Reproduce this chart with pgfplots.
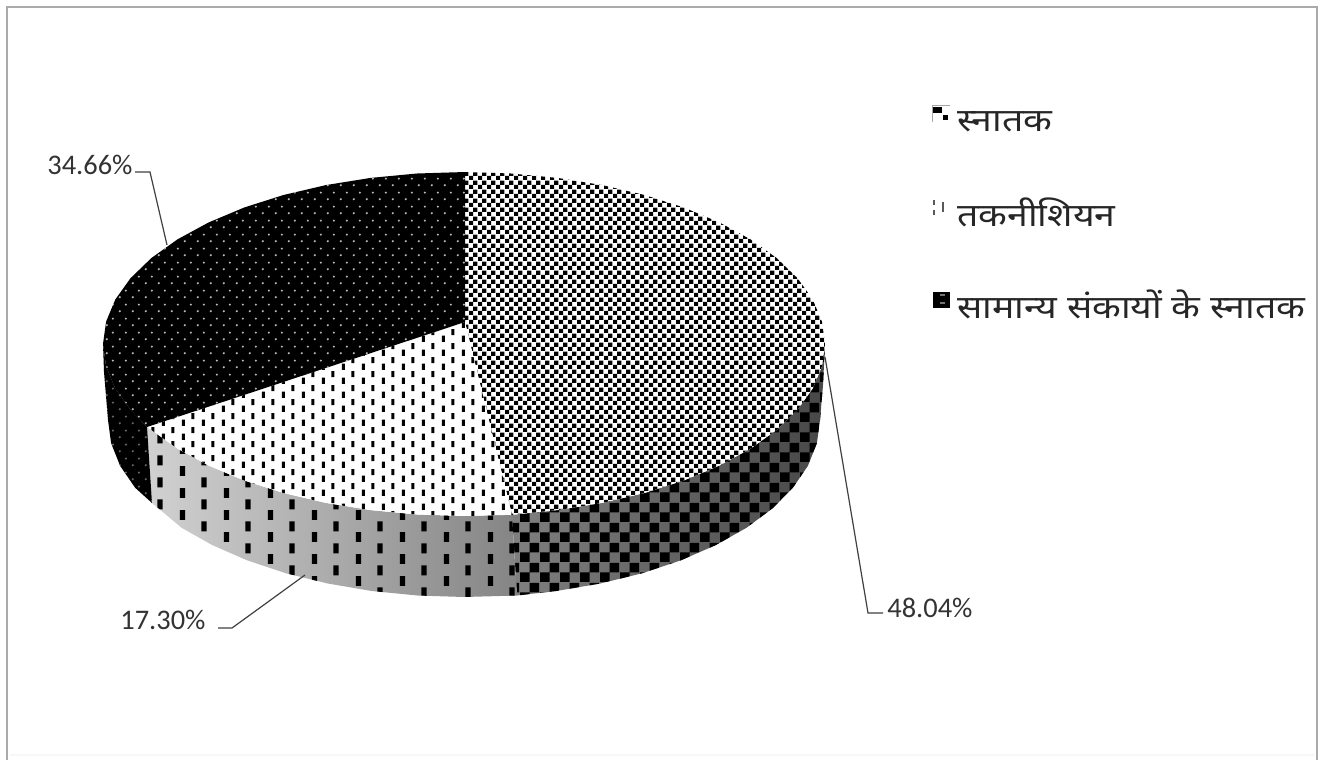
\documentclass[border=0pt]{standalone}
\usepackage{fontspec}
\setmainfont{Carlito}
\newfontfamily\hindi[Script=Devanagari,FakeStretch=1.17]{Noto Sans}
\usepackage{pgfplots}
\usepackage{pgfplotstable}
\pgfplotsset{compat=1.18}
\usetikzlibrary{patterns}
% 1 px of the reference = 0.5 pt
\pgfdeclarepatternformonly{checktop}{\pgfqpoint{0pt}{0pt}}{\pgfqpoint{4.6pt}{4.6pt}}{\pgfqpoint{4.6pt}{4.6pt}}{%
  \pgfpathrectangle{\pgfqpoint{0pt}{0pt}}{\pgfqpoint{2.3pt}{2.3pt}}%
  \pgfpathrectangle{\pgfqpoint{2.3pt}{2.3pt}}{\pgfqpoint{2.3pt}{2.3pt}}%
  \pgfusepath{fill}}
\pgfdeclarepatternformonly{checkside}{\pgfqpoint{0pt}{0pt}}{\pgfqpoint{10pt}{10pt}}{\pgfqpoint{10pt}{10pt}}{%
  \pgfpathrectangle{\pgfqpoint{0pt}{0pt}}{\pgfqpoint{5pt}{5pt}}%
  \pgfpathrectangle{\pgfqpoint{5pt}{5pt}}{\pgfqpoint{5pt}{5pt}}%
  \pgfusepath{fill}}
\pgfdeclarepatternformonly{dashtop}{\pgfqpoint{0pt}{0pt}}{\pgfqpoint{10pt}{7pt}}{\pgfqpoint{10pt}{7pt}}{%
  \pgfpathrectangle{\pgfqpoint{1pt}{0.1pt}}{\pgfqpoint{1.5pt}{3.3pt}}%
  \pgfpathrectangle{\pgfqpoint{6pt}{3.6pt}}{\pgfqpoint{1.5pt}{3.3pt}}%
  \pgfusepath{fill}}
\pgfdeclarepatternformonly{dashside}{\pgfqpoint{0pt}{0pt}}{\pgfqpoint{22pt}{11pt}}{\pgfqpoint{22pt}{11pt}}{%
  \pgfpathrectangle{\pgfqpoint{2pt}{0pt}}{\pgfqpoint{2.6pt}{5.2pt}}%
  \pgfpathrectangle{\pgfqpoint{13pt}{5.5pt}}{\pgfqpoint{2.6pt}{5.2pt}}%
  \pgfusepath{fill}}
\pgfdeclarepatternformonly{dottop}{\pgfqpoint{0pt}{0pt}}{\pgfqpoint{6.5pt}{7pt}}{\pgfqpoint{6.5pt}{7pt}}{%
  \pgfpathcircle{\pgfqpoint{1.5pt}{1.5pt}}{0.62pt}%
  \pgfpathcircle{\pgfqpoint{4.75pt}{5pt}}{0.62pt}%
  \pgfusepath{fill}}
\definecolor{framegray}{RGB}{170,170,170}
\pgfplotstableread{
x y
465 322
465 172
511.1 173.5
557.4 177.9
602.2 185.1
644.5 195
683.8 207.5
719.3 222.4
750.4 239.3
776.6 258
797.5 278.2
812.7 299.5
821.9 321.6
825 344
821.9 366.4
812.7 388.5
797.5 409.8
776.6 430
750.4 448.7
719.3 465.6
683.8 480.5
644.5 493
602.2 502.9
557.4 510.1
512 514.8
}\sliceA
\pgfplotstableread{
x y
465 322
512 514.8
464 516
416.9 514.5
370.6 510.1
325.8 502.9
283.5 493
244.2 480.5
208.7 465.6
177.6 448.7
151.4 430
147 427
}\sliceB
\pgfplotstableread{
x y
465 322
147 427
130.5 409.8
115.3 388.5
106.1 366.4
103 344
106.1 321.6
115.3 299.5
130.5 278.2
151.4 258
177.6 239.3
208.7 222.4
244.2 207.5
283.5 195
325.8 185.1
370.6 177.9
416.9 173.5
465 172
}\sliceC
\pgfplotstableread{
x y
825 344
821.9 366.4
812.7 388.5
797.5 409.8
776.6 430
750.4 448.7
719.3 465.6
683.8 480.5
644.5 493
602.2 502.9
557.4 510.1
512 514.8
517 595.5
556.2 591
600.2 583.5
642 573.3
680.7 560.4
715.7 545.1
746.4 527.8
772.3 508.5
792.9 487.7
807.9 465.8
816.9 443.1
820 420
823 385
}\sideA
\pgfplotstableread{
x y
512 514.8
464 516
416.9 514.5
370.6 510.1
325.8 502.9
283.5 493
244.2 480.5
208.7 465.6
177.6 448.7
151.4 430
147 427
152 503
181.6 527.8
212.3 545.1
247.3 560.4
286 573.3
327.8 583.5
371.8 591
417.5 595.5
464 597
517 595.5
}\sideB
\pgfplotstableread{
x y
147 427
130.5 409.8
115.3 388.5
106.1 366.4
103 344
104 372
106 396
108 420
111.1 443.1
120.1 465.8
135.1 487.7
152 503
}\sideC
\begin{document}
\begin{tikzpicture}
\begin{axis}[
  scale only axis, width=662.5pt, height=380pt,
  xmin=0, xmax=1325, ymin=0, ymax=760, y dir=reverse,
  axis lines=none, clip=false]
% page corners, so that the picture keeps its size
\addplot[draw=none] coordinates {(0,0) (1325,760)};
% frame
\addplot[framegray, line width=1pt] coordinates {(6.5,760) (6.5,7) (1317,7) (1317,760)};
\addplot[black!3, line width=0.8pt] coordinates {(10,755) (1314,755)};
% sides
\addplot[draw=none, left color=black!50, right color=black!72] table {\sideA} --cycle;
\addplot[draw=none, pattern=checkside, pattern color=black] table {\sideA} --cycle;
\addplot[draw=none, left color=black!18, middle color=black!22, right color=black!48] table {\sideB} --cycle;
\addplot[draw=none, pattern=dashside, pattern color=black] table {\sideB} --cycle;
\addplot[draw=none, fill=black] table {\sideC} --cycle;
\addplot[draw=none, pattern=dottop, pattern color=black!60] table {\sideC} --cycle;
% top faces
\addplot[draw=none, fill=white] table {\sliceA} --cycle;
\addplot[draw=none, pattern=checktop, pattern color=black] table {\sliceA} --cycle;
\addplot[draw=none, fill=white] table {\sliceB} --cycle;
\addplot[draw=none, pattern=dashtop, pattern color=black] table {\sliceB} --cycle;
\addplot[draw=none, fill=black] table {\sliceC} --cycle;
\addplot[draw=none, pattern=dottop, pattern color=black!28] table {\sliceC} --cycle;
% leader lines
\addplot[black!75, line width=0.6pt] coordinates {(825,357) (868,613) (883,613)};
\addplot[black!75, line width=0.6pt] coordinates {(135,172) (150,172) (167,245)};
\addplot[black!75, line width=0.6pt] coordinates {(218,628) (232,628) (305,575)};
% legend keys
\addplot[black!35, line width=0.4pt] coordinates {(932,122) (932,105) (950,105)};
\addplot[draw=none, fill=black] coordinates {(933,107) (942,107) (942,113) (933,113)} --cycle;
\addplot[draw=none, fill=black] coordinates {(943,115) (948,115) (948,120) (943,120)} --cycle;
\addplot[draw=none, fill=black!65] coordinates {(933,200) (935,200) (935,205) (933,205)} --cycle;
\addplot[draw=none, fill=black!65] coordinates {(933,210) (935,210) (935,215) (933,215)} --cycle;
\addplot[draw=none, fill=black!65] coordinates {(942,202) (944,202) (944,212) (942,212)} --cycle;
\addplot[draw=none, fill=black] coordinates {(933,292) (950,292) (950,308) (933,308)} --cycle;
\addplot[draw=none, fill=black!55] coordinates {(940,294) (945,294) (945,296) (940,296)} --cycle;
\addplot[draw=none, fill=black!55] coordinates {(940,302) (945,302) (945,304) (940,304)} --cycle;
% labels
\node[anchor=west, inner sep=0pt, font=\fontsize{14.2pt}{16pt}\selectfont, text=black!80] at (axis cs:47,165) {34.66\%};
\node[anchor=west, inner sep=0pt, font=\fontsize{14.2pt}{16pt}\selectfont, text=black!80] at (axis cs:120,620) {17.30\%};
\node[anchor=west, inner sep=0pt, font=\fontsize{14.2pt}{16pt}\selectfont, text=black!80] at (axis cs:887,608) {48.04\%};
\node[anchor=base west, inner sep=0pt, font=\hindi\fontsize{16pt}{18pt}\selectfont, text=black!85] at (axis cs:957,131) {स्नातक};
\node[anchor=base west, inner sep=0pt, font=\hindi\fontsize{16pt}{18pt}\selectfont, text=black!85] at (axis cs:957,226) {तकनीशियन};
\node[anchor=base west, inner sep=0pt, font=\hindi\fontsize{16pt}{18pt}\selectfont, text=black!85] at (axis cs:957,318) {सामान्य संकायों के स्नातक};
\end{axis}
\end{tikzpicture}
\end{document}
